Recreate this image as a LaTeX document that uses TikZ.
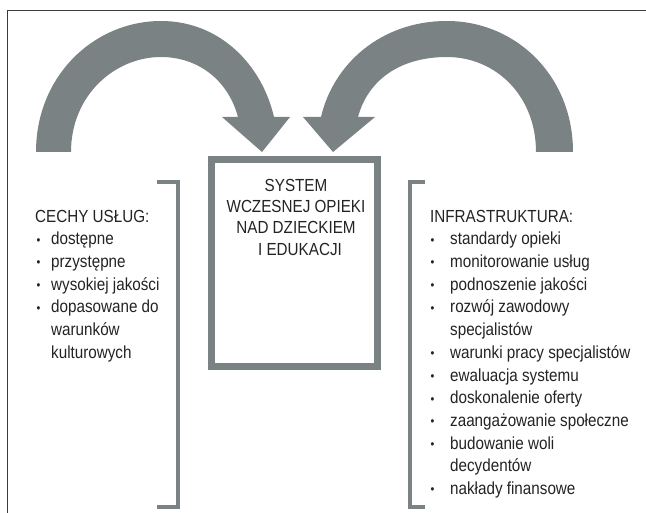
\documentclass[tikz,border=0pt]{standalone}
\usepackage{fontspec}
\setmainfont{Liberation Sans}[FakeStretch=0.87]
\usetikzlibrary{positioning}

\definecolor{arrowgrey}{RGB}{122,130,131}
\definecolor{textdark}{RGB}{35,35,35}
\definecolor{framedark}{RGB}{60,60,60}

\newcommand{\bul}{\raisebox{0.6pt}{\fontsize{12.5}{12.5}\selectfont\textbullet}}
% bullet item: [box width]{indent of bullet}{text}
\newcommand{\bitem}[3][16pt]{\makebox[#1][l]{\hspace*{#2}\bul}#3}
\newcommand{\bcont}[2][16pt]{\makebox[#1][l]{}#2}

\begin{document}
\begin{tikzpicture}
  [x=1pt,y=-1pt,
   listtext/.style={align=left,inner sep=0pt,text=textdark,
     font=\fontsize{17.5}{22.7}\selectfont},
   boxtext/.style={align=center,inner sep=0pt,text=textdark,
     font=\fontsize{17.5}{21.3}\selectfont},
   sysbox/.style={draw=arrowgrey,line width=7pt,inner sep=0pt,
     minimum width=166pt,minimum height=207pt},
   bendarrow/.style={fill=arrowgrey},
   bracket/.style={draw=arrowgrey,line width=4pt}]
  \useasboundingbox (0,0) rectangle (646,513);

  % frame
  \draw[framedark,line width=1pt] (7,513) -- (7,11) -- (646,11);

  % central box
  \node[sysbox] (sys) at (294.5,263) {};
  \node[boxtext,below=20pt of sys.north,xshift=1.5pt] (systxt)
    {\strut SYSTEM\\ WCZESNEJ OPIEKI\\ NAD DZIECKIEM\\ \hspace*{8pt}I EDUKACJI};

  % curved arrows
  \path[bendarrow] (36,152) .. controls (36,75) and (95,21) .. (161,21)
    .. controls (220,21) and (262,65) .. (274,117)
    -- (290,117) -- (262,152) -- (222,117) -- (238,117)
    .. controls (228,80) and (198,57) .. (161,57)
    .. controls (115,57) and (71,95) .. (71,152) -- cycle;
  \path[bendarrow] (573,152) .. controls (573,75) and (515,21) .. (447,21)
    .. controls (380,21) and (333,65) .. (321,117)
    -- (303,117) -- (333,152) -- (375,117) -- (358,117)
    .. controls (368,80) and (400,57) .. (447,57)
    .. controls (495,57) and (536,95) .. (536,152) -- cycle;

  % brackets
  \foreach \xe/\xv in {157/178,425/410}
    \draw[bracket] (\xe,182) -- (\xv,182) -- (\xv,507) -- (\xe,507);

  % lists
  \node[listtext,anchor=north west] (cechy) at (35,206.1)
    {\strut CECHY USŁUG:\\
     \bitem{1.5pt}{dostępne}\\
     \bitem{1.5pt}{przystępne}\\
     \bitem{1.5pt}{wysokiej jakości}\\
     \bitem{1.5pt}{dopasowane do}\\
     \bcont{warunków}\\
     \bcont{kulturowych}};
  \node[listtext,anchor=north west] (infra) at (430,206.1)
    {\strut INFRASTRUKTURA:\\
     \bitem[20pt]{0.5pt}{standardy opieki}\\
     \bitem[20pt]{0.5pt}{monitorowanie usług}\\
     \bitem[20pt]{0.5pt}{podnoszenie jakości}\\
     \bitem[20pt]{0.5pt}{rozwój zawodowy}\\
     \bcont[20pt]{specjalistów}\\
     \bitem[20pt]{0.5pt}{warunki pracy specjalistów}\\
     \bitem[20pt]{0.5pt}{ewaluacja systemu}\\
     \bitem[20pt]{0.5pt}{doskonalenie oferty}\\
     \bitem[20pt]{0.5pt}{zaangażowanie społeczne}\\
     \bitem[20pt]{0.5pt}{budowanie woli}\\
     \bcont[20pt]{decydentów}\\
     \bitem[20pt]{0.5pt}{nakłady finansowe}};
\end{tikzpicture}
\end{document}
